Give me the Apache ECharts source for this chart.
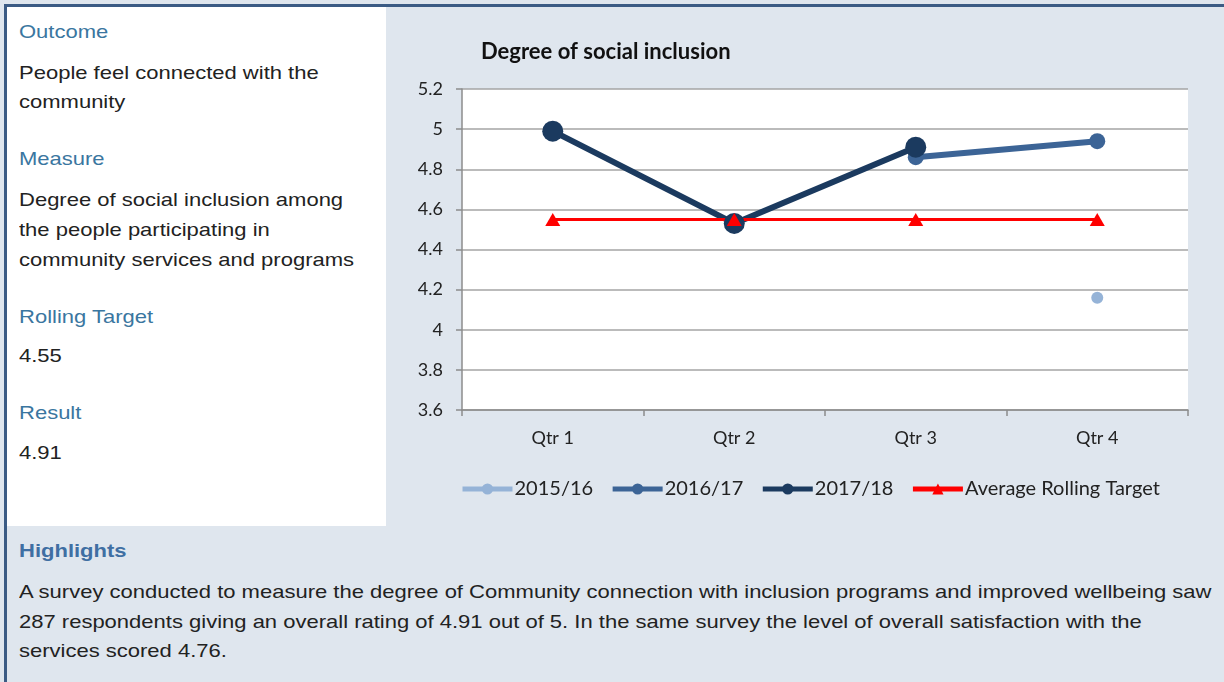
<!DOCTYPE html>
<html><head><meta charset="utf-8">
<script src="https://cdn.jsdelivr.net/npm/echarts@6/dist/echarts.min.js"></script>
<style>
html,body{margin:0;padding:0;width:1224px;height:682px;overflow:hidden;background:#dfe6ee;font-family:"Liberation Sans",Arial,sans-serif;}
#topline{position:absolute;left:4px;top:4px;width:1220px;height:3px;background:#3b5b84;}
#leftline{position:absolute;left:4px;top:4px;width:3px;height:678px;background:#3b5b84;}
#left{position:absolute;left:7px;top:7px;width:379px;height:519px;background:#fff;}
.h,.t,.hb{position:absolute;left:19px;font-size:19px;line-height:30px;white-space:nowrap;transform:scaleX(1.158);transform-origin:0 0;}
.h{color:#3a76a0;}
.t{color:#222;}
.hb{color:#3f6fa3;font-weight:bold;}
#chart{position:absolute;left:387px;top:7px;width:837px;height:520px;}
</style>
</head><body>
<div id="left"></div>
<div id="topline"></div>
<div id="leftline"></div>
<div class="h" style="top:17px">Outcome</div>
<div class="t" style="top:58px;line-height:29px">People feel connected with the<br>community</div>
<div class="h" style="top:144px">Measure</div>
<div class="t" style="top:185px">Degree of social inclusion among<br>the people participating in<br>community services and programs</div>
<div class="h" style="top:302px">Rolling Target</div>
<div class="t" style="top:341px">4.55</div>
<div class="h" style="top:398px">Result</div>
<div class="t" style="top:438px">4.91</div>
<div class="hb" style="top:536px">Highlights</div>
<div class="t" style="top:577px;line-height:29.5px">A survey conducted to measure the degree of Community connection with inclusion programs and improved wellbeing saw<br>287 respondents giving an overall rating of 4.91 out of 5. In the same survey the level of overall satisfaction with the<br>services scored 4.76.</div>
<div id="chart"></div>
<script>
const categories = ['Qtr 1', 'Qtr 2', 'Qtr 3', 'Qtr 4'];
const s2015 = [null, null, null, 4.16];
const s2016 = [null, null, 4.86, 4.94];
const s2017 = [4.99, 4.53, 4.91, null];
const target = [4.55, 4.55, 4.55, 4.55];
const seriesNames = ['2015/16', '2016/17', '2017/18', 'Average Rolling Target'];
const yMin = 3.6, yMax = 5.2, yStep = 0.2;

const chart = echarts.init(document.getElementById('chart'), null, {renderer: 'canvas'});
const font = 'Lato, "Open Sans", sans-serif';
chart.setOption({
  backgroundColor: 'transparent',
  animation: false,
  title: {
    text: 'Degree of social inclusion',
    left: 94, top: 34, padding: 0,
    textStyle: {fontFamily: font, fontSize: 22, fontWeight: 'bold', color: '#111'}
  },
  legend: {
    data: seriesNames,
    left: 73, top: 472, padding: 0,
    itemWidth: 50, itemHeight: 14, itemGap: 17,
    lineStyle: {width: 5},
    textStyle: {fontFamily: font, fontSize: 20, color: '#222', padding: [0, 0, 0, -3]}
  },
  grid: {
    left: 75, right: 36, top: 82, bottom: 117,
    show: true, backgroundColor: '#ffffff', borderWidth: 0
  },
  xAxis: {
    type: 'category',
    data: categories,
    boundaryGap: true,
    axisLine: {lineStyle: {color: '#8c8c8c', width: 1.5}},
    axisTick: {show: true, length: 6, lineStyle: {color: '#8c8c8c', width: 1.5}},
    axisLabel: {margin: 19, fontFamily: font, fontSize: 18, color: '#222'}
  },
  yAxis: {
    type: 'value',
    min: yMin, max: yMax, interval: yStep,
    axisLine: {show: true, lineStyle: {color: '#8c8c8c', width: 1.5}},
    axisTick: {show: true, length: 6, lineStyle: {color: '#8c8c8c', width: 1.5}},
    splitLine: {lineStyle: {color: '#a5a5a5', width: 1.5}},
    axisLabel: {margin: 19, fontFamily: font, fontSize: 18, color: '#222',
      formatter: v => String(Math.round(v * 10) / 10)}
  },
  series: [
    {name: seriesNames[0], type: 'line', data: s2015, symbol: 'circle', symbolSize: 12,
     itemStyle: {color: '#95b3d7'}, lineStyle: {color: '#95b3d7', width: 6}},
    {name: seriesNames[1], type: 'line', data: s2016, symbol: 'circle', symbolSize: 16,
     itemStyle: {color: '#3c6496'}, lineStyle: {color: '#3c6496', width: 6}},
    {name: seriesNames[2], type: 'line', data: s2017, symbol: 'circle', symbolSize: 21,
     itemStyle: {color: '#1b3a5f'}, lineStyle: {color: '#1b3a5f', width: 6}},
    {name: seriesNames[3], type: 'line', data: target, symbol: 'triangle', symbolSize: [15, 13],
     itemStyle: {color: '#ff0000'}, lineStyle: {color: '#ff0000', width: 3}}
  ]
});
</script>
</body></html>
